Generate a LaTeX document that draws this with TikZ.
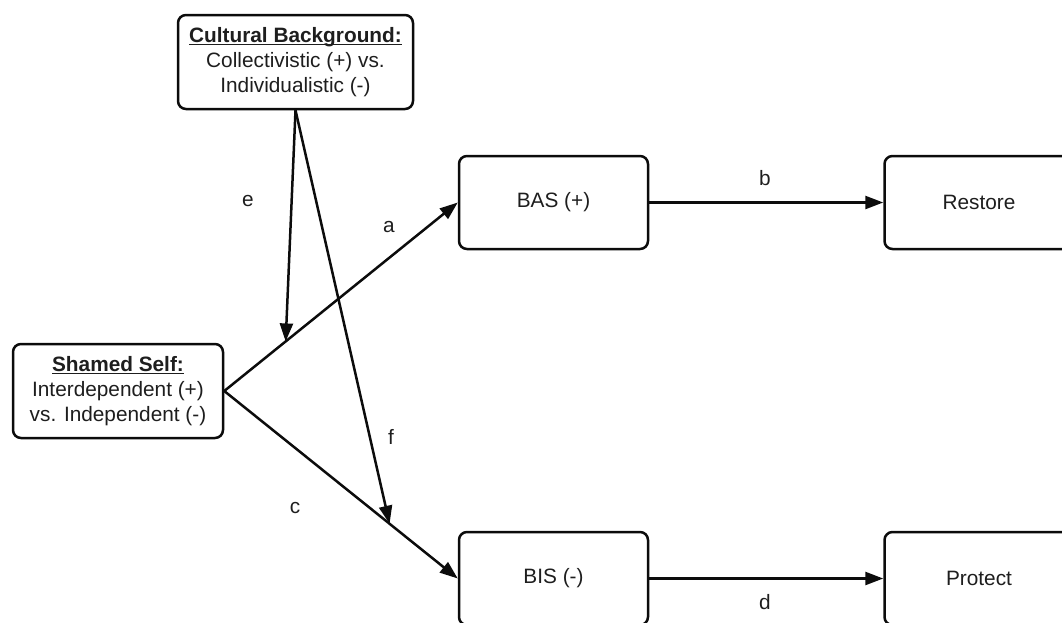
\documentclass[tikz,border=0pt]{standalone}
\usepackage{fontspec}
\setmainfont{Liberation Sans}
\usetikzlibrary{arrows.meta,positioning}
\definecolor{ink}{RGB}{12,12,12}
\definecolor{txt}{RGB}{30,30,30}

\newcommand{\hdr}[1]{\underline{\raisebox{0pt}[\height][0pt]{\textbf{#1}}}}

\begin{document}
\begin{tikzpicture}[
    x=1pt, y=-1pt,
    node distance=40pt and 234pt,
    box/.style={draw=ink, rounded corners=8pt, minimum width=189pt, minimum height=93pt,
                align=center, fill=white, line width=2.5pt, text=txt,
                font=\fontsize{20.8}{25}\selectfont},
    lbl/.style={inner sep=0pt, text=txt, font=\fontsize{20.8}{25}\selectfont},
    arr/.style={-{Triangle[length=18pt,width=13pt]}, draw=ink, line width=2.5pt}
]
\clip (0,0) rectangle (1062,622);
\node[box, minimum width=235pt, minimum height=94pt] (cult) at (295.5,62) {\hdr{Cultural Background:}\\Collectivistic (+) vs.\\Individualistic (-)};
\node[box, minimum width=210pt, minimum height=94pt] (self) at (118,391) {\hdr{Shamed Self:}\\Interdependent (+)\\vs. Independent (-)};
\node[box] (bas) at (553.5,202.5) {BAS (+)};
\node[box, right=of bas] (restore) {Restore};
\node[box] (bis) at (553.5,578.5) {BIS (-)};
\node[box, right=of bis] (protect) {Protect};

% paths from the shamed self
\draw[arr] (self.east) -- (bas.west) coordinate[pos=0.263] (ea);
\draw[arr] (self.east) -- (bis.west) coordinate[pos=0.708] (fc);
\draw[arr] (bas.east) -- (restore.west);
\draw[arr] (bis.east) -- (protect.west);

% moderation by culture
\draw[arr] (cult.south) -- (ea);
\draw[arr] (cult.south) -- (fc);

\node[lbl] (le) at (248,201) {e};
\node[lbl] (la) at (389,227) {a};
\node[lbl] (lb) at (765,178) {b};
\node[lbl] (lf) at (391,437) {f};
\node[lbl] (lc) at (295,508) {c};
\node[lbl] (ld) at (765,602) {d};
\end{tikzpicture}
\end{document}
